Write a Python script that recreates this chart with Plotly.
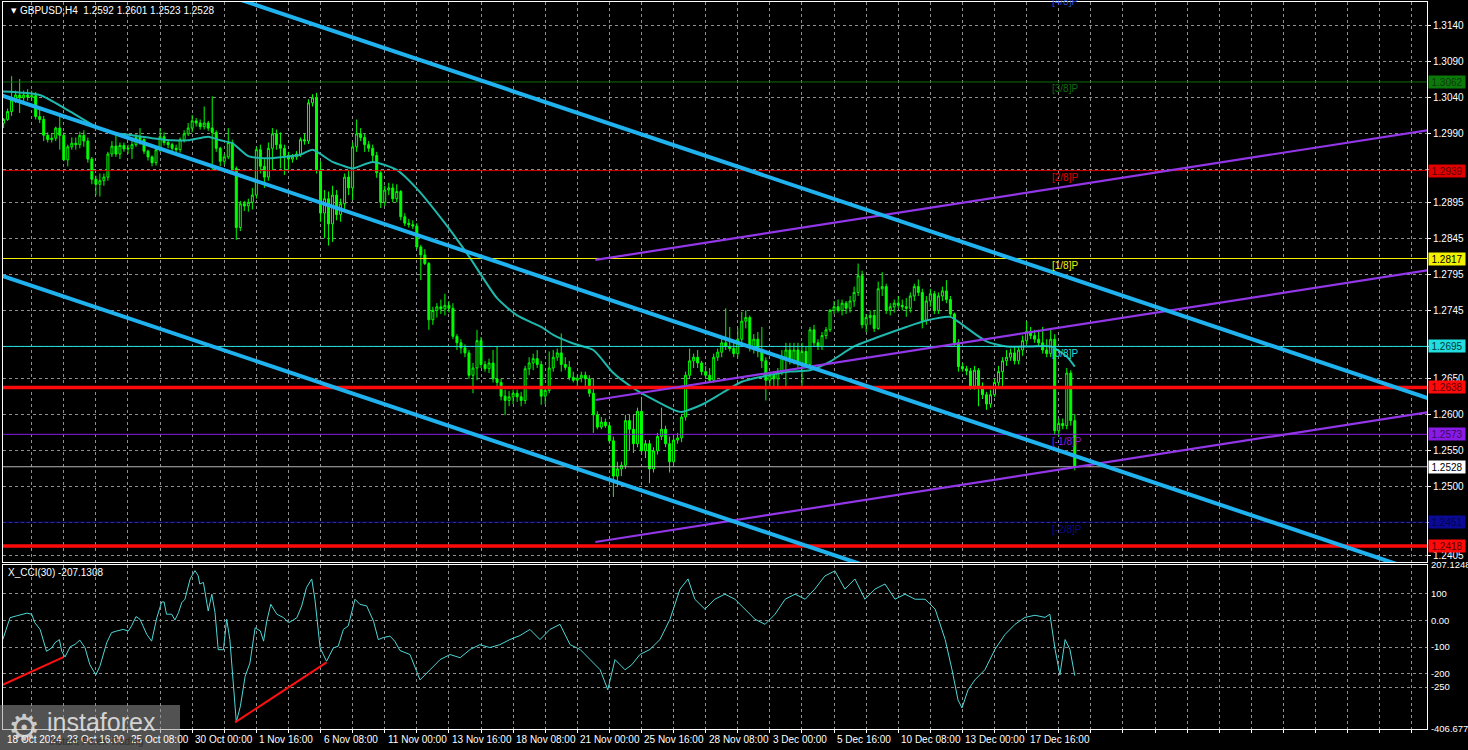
import plotly.graph_objects as go

# ---------------- data ----------------
opens = [1.3005,1.3010,1.3021,1.3037,1.3044,1.3040,1.3044,1.3041,1.3043,1.3014,
 1.3010,1.2988,1.2982,1.2984,1.2998,1.2988,1.2954,1.2972,1.2977,1.2975,
 1.2988,1.2980,1.2955,1.2927,1.2920,1.2925,1.2930,1.2962,1.2973,1.2962,
 1.2974,1.2969,1.2970,1.2975,1.2985,1.2982,1.2966,1.2958,1.2950,1.2968,
 1.2986,1.2978,1.2975,1.2970,1.2968,1.2982,1.2990,1.2998,1.3008,1.3005,
 1.3000,1.3005,1.2998,1.2992,1.2970,1.2952,1.2958,1.2978,1.2942,1.2860,
 1.2893,1.2890,1.2895,1.2905,1.2968,1.2945,1.2930,1.2970,1.2990,1.2975,
 1.2970,1.2960,1.2955,1.2958,1.2962,1.2982,1.2980,1.3033,1.3040,1.2940,
 1.2880,1.2900,1.2865,1.2905,1.2878,1.2893,1.2930,1.2915,1.2972,1.2990,
 1.2985,1.2975,1.2970,1.2960,1.2936,1.2895,1.2912,1.2915,1.2900,1.2910,
 1.2875,1.2866,1.2864,1.2862,1.2833,1.2822,1.2810,1.2732,1.2745,1.2750,
 1.2747,1.2752,1.2748,1.2709,1.2700,1.2693,1.2686,1.2655,1.2665,1.2703,
 1.2670,1.2664,1.2672,1.2650,1.2645,1.2626,1.2620,1.2625,1.2630,1.2625,
 1.2620,1.2664,1.2672,1.2678,1.2670,1.2626,1.2634,1.2665,1.2680,1.2686,
 1.2670,1.2666,1.2652,1.2648,1.2651,1.2655,1.2650,1.2630,1.2600,1.2583,
 1.2590,1.2585,1.2564,1.2515,1.2525,1.2530,1.2592,1.2580,1.2560,1.2605,
 1.2550,1.2560,1.2525,1.2550,1.2570,1.2580,1.2560,1.2535,1.2565,1.2568,
 1.2597,1.2655,1.2675,1.2680,1.2672,1.2660,1.2655,1.2648,1.2680,1.2687,
 1.2700,1.2695,1.2692,1.2685,1.2705,1.2730,1.2735,1.2693,1.2705,1.2690,
 1.2675,1.2648,1.2655,1.2650,1.2660,1.2680,1.2690,1.2675,1.2690,1.2672,
 1.2688,1.2670,1.2718,1.2700,1.2695,1.2710,1.2718,1.2745,1.2750,1.2745,
 1.2755,1.2748,1.2758,1.2770,1.2793,1.2725,1.2735,1.2738,1.2720,1.2775,
 1.2778,1.2745,1.2750,1.2755,1.2752,1.2750,1.2748,1.2765,1.2778,1.2770,
 1.2731,1.2758,1.2768,1.2745,1.2765,1.2772,1.2760,1.2740,1.2700,1.2667,
 1.2664,1.2661,1.2640,1.2662,1.2640,1.2628,1.2615,1.2628,1.2645,1.2660,
 1.2675,1.2680,1.2686,1.2675,1.2690,1.2703,1.2716,1.2710,1.2705,1.2700,
 1.2690,1.2685,1.2705,1.2578,1.2588,1.2585,1.2658,1.2592]

highs = [1.3012,1.3025,1.3070,1.3050,1.3066,1.3050,1.3052,1.3050,1.3048,1.3028,
 1.3015,1.2992,1.2990,1.3000,1.3014,1.2992,1.2975,1.2985,1.2985,1.2993,
 1.2995,1.2985,1.2958,1.2932,1.2935,1.2935,1.2965,1.2980,1.2988,1.2978,
 1.2978,1.2975,1.2980,1.2990,1.2998,1.2984,1.2968,1.2960,1.2972,1.2998,
 1.2992,1.2982,1.2978,1.2975,1.2985,1.2995,1.3005,1.3016,1.3012,1.3010,
 1.3028,1.3008,1.3042,1.2995,1.2972,1.2962,1.2998,1.2982,1.2945,1.2897,
 1.2897,1.2900,1.2915,1.2972,1.2975,1.2955,1.2978,1.2998,1.2996,1.2992,
 1.2975,1.2965,1.2962,1.2966,1.2985,1.2990,1.3038,1.3045,1.3047,1.2952,
 1.2912,1.2910,1.2918,1.2912,1.2900,1.2935,1.2940,1.2978,1.3010,1.2998,
 1.2990,1.2980,1.2975,1.2965,1.2940,1.2918,1.2922,1.2921,1.2920,1.2912,
 1.2880,1.2872,1.2870,1.2866,1.2836,1.2830,1.2812,1.2750,1.2755,1.2760,
 1.2768,1.2758,1.2755,1.2712,1.2705,1.2698,1.2690,1.2672,1.2718,1.2708,
 1.2675,1.2678,1.2690,1.2695,1.2650,1.2635,1.2633,1.2635,1.2635,1.2632,
 1.2668,1.2680,1.2685,1.2690,1.2675,1.2640,1.2688,1.2690,1.2692,1.2713,
 1.2680,1.2675,1.2660,1.2655,1.2660,1.2660,1.2655,1.2650,1.2605,1.2597,
 1.2595,1.2590,1.2570,1.2535,1.2535,1.2600,1.2600,1.2600,1.2610,1.2625,
 1.2565,1.2565,1.2555,1.2575,1.2610,1.2585,1.2570,1.2570,1.2575,1.2600,
 1.2660,1.2692,1.2685,1.2690,1.2675,1.2668,1.2665,1.2685,1.2692,1.2705,
 1.2748,1.2722,1.2700,1.2720,1.2743,1.2745,1.2738,1.2712,1.2715,1.2722,
 1.2680,1.2660,1.2660,1.2665,1.2690,1.2700,1.2700,1.2700,1.2700,1.2700,
 1.2695,1.2722,1.2725,1.2705,1.2715,1.2722,1.2747,1.2758,1.2760,1.2760,
 1.2758,1.2765,1.2778,1.2810,1.2800,1.2740,1.2745,1.2745,1.2785,1.2798,
 1.2782,1.2755,1.2760,1.2765,1.2760,1.2762,1.2770,1.2782,1.2788,1.2775,
 1.2765,1.2775,1.2772,1.2770,1.2778,1.2787,1.2765,1.2742,1.2705,1.2672,
 1.2668,1.2665,1.2668,1.2665,1.2645,1.2632,1.2635,1.2650,1.2668,1.2680,
 1.2690,1.2692,1.2695,1.2695,1.2710,1.2730,1.2722,1.2718,1.2718,1.2722,
 1.2705,1.2718,1.2712,1.2595,1.2595,1.2665,1.2662,1.2601]

lows = [1.2998,1.3008,1.3015,1.3033,1.3019,1.3035,1.3036,1.3036,1.3010,1.3005,
 1.2980,1.2978,1.2978,1.2980,1.2968,1.2952,1.2945,1.2968,1.2968,1.2970,
 1.2972,1.2950,1.2920,1.2905,1.2903,1.2918,1.2925,1.2958,1.2958,1.2955,
 1.2965,1.2962,1.2955,1.2972,1.2975,1.2962,1.2953,1.2945,1.2946,1.2965,
 1.2974,1.2970,1.2966,1.2963,1.2964,1.2978,1.2987,1.2992,1.3000,1.2996,
 1.2996,1.2994,1.2940,1.2965,1.2945,1.2947,1.2955,1.2938,1.2843,1.2855,
 1.2883,1.2882,1.2885,1.2900,1.2935,1.2915,1.2925,1.2940,1.2968,1.2942,
 1.2933,1.2940,1.2950,1.2954,1.2958,1.2975,1.2976,1.3028,1.2935,1.2868,
 1.2845,1.2835,1.2840,1.2870,1.2868,1.2885,1.2905,1.2898,1.2965,1.2980,
 1.2965,1.2965,1.2950,1.2929,1.2887,1.2890,1.2905,1.2895,1.2895,1.2870,
 1.2862,1.2860,1.2858,1.2830,1.2787,1.2808,1.2718,1.2725,1.2735,1.2740,
 1.2738,1.2742,1.2705,1.2690,1.2685,1.2680,1.2650,1.2630,1.2648,1.2665,
 1.2660,1.2658,1.2645,1.2640,1.2620,1.2600,1.2612,1.2615,1.2618,1.2612,
 1.2615,1.2655,1.2662,1.2665,1.2614,1.2615,1.2630,1.2660,1.2675,1.2660,
 1.2662,1.2648,1.2645,1.2640,1.2645,1.2637,1.2625,1.2575,1.2580,1.2580,
 1.2582,1.2560,1.2486,1.2500,1.2515,1.2525,1.2550,1.2547,1.2555,1.2545,
 1.2540,1.2505,1.2520,1.2545,1.2565,1.2555,1.2520,1.2530,1.2560,1.2562,
 1.2592,1.2650,1.2665,1.2665,1.2655,1.2650,1.2645,1.2645,1.2675,1.2680,
 1.2690,1.2688,1.2680,1.2680,1.2700,1.2720,1.2688,1.2685,1.2680,1.2665,
 1.2620,1.2640,1.2640,1.2640,1.2655,1.2640,1.2670,1.2670,1.2665,1.2640,
 1.2665,1.2665,1.2695,1.2690,1.2690,1.2705,1.2715,1.2740,1.2742,1.2738,
 1.2740,1.2742,1.2750,1.2765,1.2720,1.2715,1.2725,1.2715,1.2718,1.2765,
 1.2740,1.2738,1.2742,1.2748,1.2745,1.2736,1.2742,1.2758,1.2765,1.2720,
 1.2725,1.2750,1.2740,1.2740,1.2758,1.2755,1.2735,1.2695,1.2660,1.2660,
 1.2655,1.2635,1.2635,1.2612,1.2622,1.2607,1.2610,1.2625,1.2640,1.2640,
 1.2668,1.2675,1.2670,1.2670,1.2682,1.2698,1.2705,1.2700,1.2695,1.2685,
 1.2680,1.2680,1.2572,1.2570,1.2580,1.2580,1.2585,1.2523]

closes = [1.3010,1.3021,1.3037,1.3044,1.3040,1.3044,1.3041,1.3043,1.3014,1.3010,
 1.2988,1.2982,1.2984,1.2998,1.2988,1.2954,1.2972,1.2977,1.2975,1.2988,
 1.2980,1.2955,1.2927,1.2920,1.2925,1.2930,1.2962,1.2973,1.2962,1.2974,
 1.2969,1.2970,1.2975,1.2985,1.2982,1.2966,1.2958,1.2950,1.2968,1.2986,
 1.2978,1.2975,1.2970,1.2968,1.2982,1.2990,1.2998,1.3008,1.3005,1.3000,
 1.3005,1.2998,1.2992,1.2970,1.2952,1.2958,1.2978,1.2942,1.2860,1.2893,
 1.2890,1.2895,1.2905,1.2968,1.2945,1.2930,1.2970,1.2990,1.2975,1.2970,
 1.2960,1.2955,1.2958,1.2962,1.2982,1.2980,1.3033,1.3040,1.2940,1.2880,
 1.2900,1.2865,1.2905,1.2878,1.2893,1.2930,1.2915,1.2972,1.2990,1.2985,
 1.2975,1.2970,1.2960,1.2936,1.2895,1.2912,1.2915,1.2900,1.2910,1.2875,
 1.2866,1.2864,1.2862,1.2833,1.2822,1.2810,1.2732,1.2745,1.2750,1.2747,
 1.2752,1.2748,1.2709,1.2700,1.2693,1.2686,1.2655,1.2665,1.2703,1.2670,
 1.2664,1.2672,1.2650,1.2645,1.2626,1.2620,1.2625,1.2630,1.2625,1.2620,
 1.2664,1.2672,1.2678,1.2670,1.2626,1.2634,1.2665,1.2680,1.2686,1.2670,
 1.2666,1.2652,1.2648,1.2651,1.2655,1.2650,1.2630,1.2600,1.2583,1.2590,
 1.2585,1.2564,1.2515,1.2525,1.2530,1.2592,1.2580,1.2560,1.2605,1.2550,
 1.2560,1.2525,1.2550,1.2570,1.2580,1.2560,1.2535,1.2565,1.2568,1.2597,
 1.2655,1.2675,1.2680,1.2672,1.2660,1.2655,1.2648,1.2680,1.2687,1.2700,
 1.2695,1.2692,1.2685,1.2705,1.2730,1.2735,1.2693,1.2705,1.2690,1.2675,
 1.2648,1.2655,1.2650,1.2660,1.2680,1.2690,1.2675,1.2690,1.2672,1.2688,
 1.2670,1.2718,1.2700,1.2695,1.2710,1.2718,1.2745,1.2750,1.2745,1.2755,
 1.2748,1.2758,1.2770,1.2793,1.2725,1.2735,1.2738,1.2720,1.2775,1.2778,
 1.2745,1.2750,1.2755,1.2752,1.2750,1.2748,1.2765,1.2778,1.2770,1.2731,
 1.2758,1.2768,1.2745,1.2765,1.2772,1.2760,1.2740,1.2700,1.2667,1.2664,
 1.2661,1.2640,1.2662,1.2640,1.2628,1.2615,1.2628,1.2645,1.2660,1.2675,
 1.2680,1.2686,1.2675,1.2690,1.2703,1.2716,1.2710,1.2705,1.2700,1.2690,
 1.2685,1.2705,1.2578,1.2588,1.2585,1.2658,1.2592,1.2528]

bars = list(range(len(closes)))

# moving average (read at sample bars)
ma_bars = [-1, 9, 16, 23, 26, 32, 37, 42, 46, 51, 54, 57, 61, 66, 70, 74, 77, 82, 85, 87,
           92, 98, 103, 110, 116, 123, 128, 134, 137, 142, 147, 152, 157, 162, 167, 169,
           174, 179, 184, 189, 196, 201, 206, 212, 218, 225, 230, 236, 238, 245, 250,
           256, 261, 265, 267]
ma_vals = [1.3049, 1.3044, 1.3023, 1.3000, 1.2993, 1.2988, 1.2984, 1.2981, 1.2981, 1.2986,
           1.2981, 1.2977, 1.2959, 1.2956, 1.2958, 1.2961, 1.2968, 1.2951, 1.2945, 1.2942,
           1.2951, 1.2940, 1.2914, 1.2866, 1.2820, 1.2762, 1.2738, 1.2722, 1.2711, 1.2699,
           1.2690, 1.2658, 1.2637, 1.2621, 1.2607, 1.2604, 1.2614, 1.2630, 1.2646, 1.2653,
           1.2660, 1.2662, 1.2674, 1.2695, 1.2708, 1.2722, 1.2731, 1.2736, 1.2729, 1.2702,
           1.2695, 1.2695, 1.2695, 1.2681, 1.2667]

# CCI(30) (read at sample bars)
cci_bars = [-0.2, 1.6, 3.3, 5.8, 7.0, 7.8, 9.1, 10.7, 12.0, 12.8, 13.9, 14.5, 15.3, 16.6,
            17.8, 19.0, 20.3, 21.5, 23.0, 24.0, 25.7, 26.9, 28.2, 29.8, 31.1, 31.9, 33.0,
            34.0, 35.7, 36.9, 38.2, 39.4, 40.0, 40.6, 41.9, 42.7, 43.6, 44.4, 45.2, 46.5,
            47.7, 48.5, 48.9, 49.8, 51.0, 51.9, 52.7, 53.5, 54.8, 55.6, 56.4, 58.0, 59.0,
            60.2, 61.4, 62.7, 64.0, 64.8, 65.6, 66.6, 68.1, 69.8, 71.0, 71.8, 73.1, 74.3,
            75.5, 76.8, 77.6, 78.9, 80.5, 82.2, 83.4, 84.7, 85.9, 87.6, 88.8, 90.5, 92.2,
            93.4, 94.6, 96.3, 97.5, 98.8, 101.3, 103.8, 106.3, 108.8, 111.3, 113.8, 116.3,
            118.7, 121.2, 123.7, 126.2, 128.7, 131.2, 133.7, 136.2, 138.7, 141.2, 143.7,
            146.2, 148.7, 150.6, 152.4, 154.9, 156.6, 158.6, 161.1, 163.6, 166.1, 168.6,
            170.6, 172.3, 174.8, 177.3, 179.8, 182.3, 184.8, 187.3, 189.8, 192.3, 194.8,
            197.3, 199.8, 202.2, 204.7, 207.2, 209.7, 212.2, 214.7, 217.2, 219.7, 222.2,
            224.7, 227.2, 229.7, 232.2, 234.7, 236.4, 237.9, 238.9, 240.4, 242.1, 244.6,
            247.1, 249.6, 252.1, 254.6, 257.1, 259.6, 260.8, 262.1, 263.3, 264.6, 265.8, 267.0]
cci_vals = [-72, 10, 17, 27, 23, -9, -34, -116, -103, -84, -72, -116, -137, -99,
            -90, -74, -103, -166, -204, -172, -84, -46, -40, -34, -40, -21, 14,
            4, -53, -78, 10, 69, 69, 23, 23, 1, 29, 66, 79, 155,
            186, 167, 136, 142, 35, 98, 29, -110, -110, 4, -72, -380, -323,
            -210, -160, -28, -40, -78, -3, 60, 23, 10, -9, -3, 10, 54,
            123, 155, 79, -103, -153, -103, -97, -34, -21, 79, 60, 54, -3,
            -72, -65, -59, -78, -113, -128, -223, -185, -147, -128, -140, -109,
            -91, -102, -91, -72, -57, -34, -72, -34, -15, -91, -109,
            -147, -185, -260, -147, -185, -166, -128, -109, -72, 4, 117,
            155, 79, 42, 79, 98, 79, 42, 4, -15, 23, 79,
            98, 79, 117, 166, 185, 117, 155, 79, 117, 136, 79,
            98, 79, 79, 42, -72, -185, -298, -328, -260, -223, -185,
            -109, -53, -15, 11, 19, 11, 23, -109, -204, -72, -109, -207]

# divergence lines on the CCI
div_bars = [[-0.2, 14.9], [57.7, 80.5]]
div_vals = [[-241, -138], [-382, -157]]

# descending channel (thick blue): bar ends, prices
blue_x = [-1, 356]
blue_upper = [1.32882, 1.26214]
blue_middle = [1.30442, 1.23766]
blue_lower = [1.27943, 1.21267]

# ascending channel (purple)
purple_x = [147.5, 356]
purple_upper = [1.28150, 1.29960]
purple_middle = [1.26206, 1.28016]
purple_lower = [1.24236, 1.26046]

# Murray levels
murray_levels = [1.3184, 1.3062, 1.2939, 1.2817, 1.2695, 1.2573, 1.2451]
murray_names = ["[4/8]P", "[3/8]P", "[2/8]P", "[1/8]P", "[0/8]P", "[-1/8]P", "[-2/8]P"]
murray_colors = ["#2b4fd6", "#0b6e0b", "#e00000", "#f2f200", "#22dede", "#8a1ae6", "#0a0a96"]
sr_levels = [1.2638, 1.2418]
last_price = 1.2528

price_ticks = [1.3140, 1.3090, 1.3040, 1.2990, 1.2940, 1.2895, 1.2845, 1.2795, 1.2745,
               1.2695, 1.2650, 1.2600, 1.2550, 1.2500, 1.2450, 1.2405]
cci_ticks = [207.1248, 100, 0, -100, -200, -250, -406.677]
cci_ticktext = ["207.1248", "100", "0.00", "-100", "-200", "-250", "-406.677"]

time_bars = [0, 15, 31, 47, 63, 79, 95, 111, 127, 143, 159, 175, 191, 207, 223, 239, 255]
time_labels = ["18 Oct 2024", "23 Oct 16:00", "25 Oct 08:00", "30 Oct 00:00", "1 Nov 16:00",
               "6 Nov 08:00", "11 Nov 00:00", "13 Nov 16:00", "18 Nov 08:00", "21 Nov 00:00",
               "25 Nov 16:00", "28 Nov 08:00", "3 Dec 00:00", "5 Dec 16:00", "10 Dec 08:00",
               "13 Dec 00:00", "17 Dec 16:00"]
grid_bars = list(range(7, 356, 8))

title_text = "GBPUSD,H4  1.2592 1.2601 1.2523 1.2528"
cci_title = "X_CCI(30) -207.1308"

# ---------------- figure ----------------
W, H = 1468, 750
ML, MR, MT, MB = 3, 41, 2, 21
PW, PH = W - ML - MR, H - MT - MB
FONT = "Liberation Sans, Arial, sans-serif"
GRID = "#8e8e8e"
XR = [-0.15, 354.8]
YR = [1.23958, 1.31730]


def px_x(x):
    return (x - ML) / PW


def px_y(y):
    return (H - MB - y) / PH


def price_px(p):
    # pixel row of a price in the main pane
    top, bot = MT, 562
    return top + (YR[1] - p) / (YR[1] - YR[0]) * (bot - top)


fig = go.Figure()

fig.add_trace(go.Candlestick(
    x=bars, open=opens, high=highs, low=lows, close=closes,
    increasing=dict(line=dict(color="#00ff00", width=1), fillcolor="#000000"),
    decreasing=dict(line=dict(color="#00ff00", width=1), fillcolor="#00ff00"),
    whiskerwidth=0, xaxis="x", yaxis="y", hoverinfo="skip"))

fig.add_trace(go.Scatter(x=ma_bars, y=ma_vals, mode="lines", line=dict(color="#1fb8ad", width=2, shape="spline", smoothing=0.6),
                         xaxis="x", yaxis="y", hoverinfo="skip"))

# Murray / horizontal levels
for lvl, col in zip(murray_levels, murray_colors):
    fig.add_trace(go.Scatter(x=[-1, 356], y=[lvl, lvl], mode="lines", line=dict(color=col, width=1),
                             xaxis="x", yaxis="y", hoverinfo="skip"))
fig.add_trace(go.Scatter(x=[-1, 356], y=[last_price, last_price], mode="lines", line=dict(color="#b4b4b4", width=1),
                         xaxis="x", yaxis="y", hoverinfo="skip"))
for lvl in sr_levels:
    fig.add_trace(go.Scatter(x=[-1, 356], y=[lvl, lvl], mode="lines", line=dict(color="#ff0a0a", width=3.5),
                             xaxis="x", yaxis="y", hoverinfo="skip"))

for yy in (purple_upper, purple_middle, purple_lower):
    fig.add_trace(go.Scatter(x=purple_x, y=yy, mode="lines", line=dict(color="#9236e8", width=2.2),
                             xaxis="x", yaxis="y", hoverinfo="skip"))
for yy in (blue_upper, blue_middle, blue_lower):
    fig.add_trace(go.Scatter(x=blue_x, y=yy, mode="lines", line=dict(color="#1fb2ee", width=4),
                             xaxis="x", yaxis="y", hoverinfo="skip"))

# CCI
fig.add_trace(go.Scatter(x=cci_bars, y=cci_vals, mode="lines", line=dict(color="#4fd6d6", width=1),
                         xaxis="x2", yaxis="y2", hoverinfo="skip"))
for dx, dv in zip(div_bars, div_vals):
    fig.add_trace(go.Scatter(x=dx, y=dv, mode="lines", line=dict(color="#ff1010", width=2),
                             xaxis="x2", yaxis="y2", hoverinfo="skip"))

axis_common = dict(showgrid=True, gridcolor=GRID, gridwidth=1, griddash="3px,3px", zeroline=False,
                   showline=True, linecolor="#ffffff", linewidth=1, mirror=True)

fig.update_layout(
    width=W, height=H, paper_bgcolor="#000000", plot_bgcolor="#000000",
    margin=dict(l=ML, r=MR, t=MT, b=MB), showlegend=False,
    xaxis=dict(domain=[0, 1], range=XR, anchor="y", tickvals=grid_bars, showticklabels=False,
               ticks="", rangeslider=dict(visible=False), **axis_common),
    yaxis=dict(domain=[px_y(562), 1], range=YR, side="right", anchor="x", tickvals=price_ticks,
               ticktext=[f"{v:.4f}" for v in price_ticks], ticks="outside", ticklen=3, tickcolor="#ffffff",
               tickfont=dict(color="#ffffff", size=10, family=FONT), automargin=False, **axis_common),
    xaxis2=dict(domain=[0, 1], range=XR, anchor="y2", matches="x", tickvals=grid_bars, showticklabels=False,
                ticks="outside", ticklen=3, tickcolor="#ffffff", **axis_common),
    yaxis2=dict(domain=[0, px_y(565)], range=[-406.677, 207.1248], side="right", anchor="x2",
                tickvals=cci_ticks, ticktext=cci_ticktext, ticks="outside", ticklen=1, tickcolor="#000000",
                tickfont=dict(color="#ffffff", size=9.5, family=FONT),
                automargin=False, **axis_common),
)

ann = []
# Murray labels
for lvl, name, col in zip(murray_levels, murray_names, murray_colors):
    if lvl > YR[1]:
        ann.append(dict(x=260.8, y=px_y(price_px(lvl) + 7), xref="x", yref="paper", text=name, showarrow=False,
                        xanchor="left", yanchor="middle", font=dict(color=col, size=10, family=FONT)))
    else:
        ann.append(dict(x=260.8, y=lvl, xref="x", yref="y", text=name, showarrow=False, xanchor="left",
                        yanchor="middle", yshift=-7, font=dict(color=col, size=10, family=FONT)))

# price boxes on the axis
boxes = [(1.3062, "#0b7a0b", "#0c3a0c"), (1.2939, "#e00000", "#5a0000"), (1.2817, "#f2f200", "#000000"),
         (1.2695, "#22dede", "#003838"), (1.2638, "#ff0a0a", "#5a0000"), (1.2573, "#8a1ae6", "#3a0a66"),
         (last_price, "#ffffff", "#000000"), (1.2451, "#0a0a96", "#05054a"), (1.2418, "#ff0a0a", "#5a0000")]
for lvl, bg, fg in boxes:
    ann.append(dict(x=1, y=lvl, xref="paper", yref="y", text=f"{lvl:.4f}", showarrow=False, xanchor="left",
                    yanchor="middle", xshift=1, bgcolor=bg, borderpad=0, width=36, height=12,
                    font=dict(color=fg, size=10, family=FONT)))

# time labels
for b, t in zip(time_bars, time_labels):
    ann.append(dict(x=b, y=0, xref="x2", yref="paper", text=t, showarrow=False, xanchor="left",
                    yanchor="top", yshift=-3, xshift=1, font=dict(color="#ffffff", size=10, family=FONT)))

# titles
ann.append(dict(x=px_x(9), y=px_y(11), xref="paper", yref="paper", text="▼", showarrow=False,
                xanchor="left", yanchor="middle", font=dict(color="#ffffff", size=7, family="DejaVu Sans")))
ann.append(dict(x=px_x(18), y=px_y(11), xref="paper", yref="paper", text=title_text, showarrow=False,
                xanchor="left", yanchor="middle", font=dict(color="#ffffff", size=10, family=FONT)))
ann.append(dict(x=px_x(6), y=px_y(572), xref="paper", yref="paper", text=cci_title, showarrow=False,
                xanchor="left", yanchor="middle", font=dict(color="#ffffff", size=10, family=FONT)))

# watermark
ann.append(dict(x=px_x(24), y=px_y(727), xref="paper", yref="paper", text="⚙", showarrow=False,
                xanchor="center", yanchor="middle", font=dict(color="rgba(225,225,225,0.85)", size=36, family="DejaVu Sans")))
ann.append(dict(x=px_x(45), y=px_y(722), xref="paper", yref="paper", text="instaforex", showarrow=False,
                xanchor="left", yanchor="middle", font=dict(color="rgba(235,235,235,0.85)", size=25, family="Liberation Sans")))
ann.append(dict(x=px_x(47), y=px_y(741), xref="paper", yref="paper", text="Instant Forex Trading", showarrow=False,
                xanchor="left", yanchor="middle", font=dict(color="rgba(40,40,40,0.8)", size=10, family=FONT)))

fig.update_layout(annotations=ann)
fig.add_shape(type="rect", xref="paper", yref="paper", x0=px_x(0), x1=px_x(180), y0=px_y(750), y1=px_y(705),
              fillcolor="rgba(150,150,150,0.55)", line=dict(width=0), layer="above")

fig.write_html("out.html", config={"displayModeBar": False, "staticPlot": True},
               post_script="document.body.style.margin='0';document.body.style.overflow='hidden';")
